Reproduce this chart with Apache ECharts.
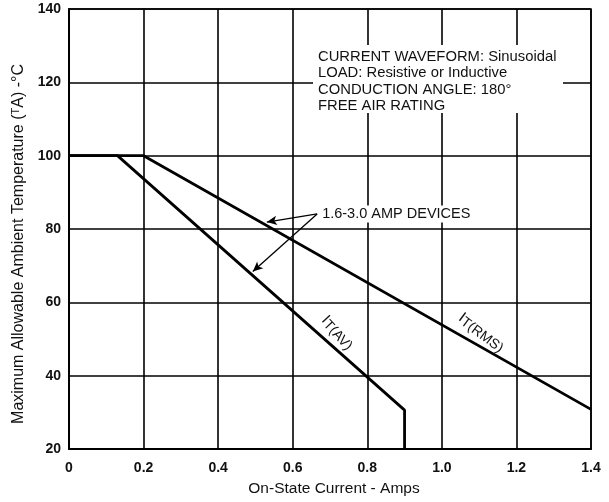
<!DOCTYPE html>
<html>
<head>
<meta charset="utf-8">
<script src="https://cdn.jsdelivr.net/npm/echarts@6/dist/echarts.min.js"></script>
<style>
html,body{margin:0;padding:0;background:#fff;}
#chart{width:609px;height:502px;}
</style>
</head>
<body>
<div id="chart"></div>
<script>
// ---- data ----
const avCurrent = [0, 0.13, 0.9, 0.9];
const avTemp = [100, 100, 30.6, 20];
const rmsCurrent = [0, 0.2, 1.4];
const rmsTemp = [100, 100, 30.8];
const xRange = [0, 1.4, 0.2];
const yRange = [20, 140, 20];
const infoLines = ['CURRENT WAVEFORM: Sinusoidal', 'LOAD: Resistive or Inductive', 'CONDUCTION ANGLE: 180\u00b0', 'FREE AIR RATING'];
const devicesLabel = '1.6-3.0 AMP DEVICES';
const arrowStart = [0.6655, 84.1];
const arrowEnds = [[0.5306, 81.9], [0.493, 68.4]];
const avLabelAt = [0.7166, 51.4];
const rmsLabelAt = [1.103, 51.4];

const FONT = '"Liberation Sans", Arial, sans-serif';
const zip = (xs, ys) => xs.map((x, i) => [x, ys[i]]);

const chart = echarts.init(document.getElementById('chart'), null, {renderer: 'canvas'});
const option = {
  animation: false,
  backgroundColor: '#fff',
  grid: {left: 69, right: 18, top: 9, bottom: 53, show: true, borderColor: '#000', borderWidth: 1.5},
  xAxis: {
    type: 'value', min: xRange[0], max: xRange[1], interval: xRange[2],
    name: 'On-State Current - Amps', nameLocation: 'middle', nameGap: 32,
    nameTextStyle: {fontFamily: FONT, fontSize: 15.5, color: '#111', padding: [0, 0, 0, 8]},
    axisLine: {show: true, lineStyle: {color: '#000', width: 2}},
    axisTick: {show: false},
    axisLabel: {margin: 12, fontFamily: FONT, fontSize: 14, fontWeight: 'bold', color: '#111',
      formatter: v => (v === 0 ? '0' : v.toFixed(1))},
    splitLine: {show: true, lineStyle: {color: '#000', width: 1.6}}
  },
  yAxis: {
    type: 'value', min: yRange[0], max: yRange[1], interval: yRange[2],
    name: 'Maximum Allowable Ambient Temperature ({s|T}A) -\u00b0C', nameLocation: 'middle', nameGap: 41,
    nameTextStyle: {fontFamily: FONT, fontSize: 16, color: '#111', padding: [0, 30, 0, 0],
      rich: {s: {fontFamily: FONT, fontSize: 11, color: '#111', verticalAlign: 'top', padding: [0, 0, 6, 0]}}},
    axisLine: {show: true, lineStyle: {color: '#000', width: 2}},
    axisTick: {show: false},
    axisLabel: {margin: 8, fontFamily: FONT, fontSize: 14, fontWeight: 'bold', color: '#111'},
    splitLine: {show: true, lineStyle: {color: '#000', width: 1.6}}
  },
  graphic: [
    {type: 'rect', shape: {x: 313, y: 45, width: 250, height: 68}, style: {fill: '#fff'}, z: 5, silent: true},
    {type: 'text', left: 318, top: 49, z: 6,
      style: {text: infoLines.join('\n'), font: '14.8px ' + FONT, fill: '#111', lineHeight: 16.2}}
  ],
  series: [
    {
      type: 'line', name: 'IT(AV)', data: zip(avCurrent, avTemp), symbol: 'none', z: 8,
      lineStyle: {color: '#000', width: 2.8},
      markPoint: {
        symbol: 'circle', symbolSize: 0,
        data: [{coord: avLabelAt, label: {show: true, rotate: -47, formatter: '{a|I}{b|T(AV)}',
          rich: {a: {fontFamily: FONT, fontSize: 15, color: '#111', padding: [0, 0, 4, 0]},
                 b: {fontFamily: FONT, fontSize: 14, color: '#111'}}}}]
      },
      markLine: {
        silent: true,
        lineStyle: {color: '#000', width: 1.3, type: 'solid'},
        label: {show: false},
        data: arrowEnds.map(e => [
          {coord: arrowStart, symbol: 'none'},
          {coord: e, symbol: 'arrow', symbolSize: [7, 10]}
        ])
      }
    },
    {
      type: 'line', name: 'IT(RMS)', data: zip(rmsCurrent, rmsTemp), symbol: 'none', z: 8,
      lineStyle: {color: '#000', width: 2.8},
      markPoint: {
        symbol: 'circle', symbolSize: 0,
        data: [
          {coord: rmsLabelAt, label: {show: true, rotate: -37, formatter: '{a|I}{b|T(RMS)}',
            rich: {a: {fontFamily: FONT, fontSize: 15, color: '#111', padding: [0, 0, 4, 0]},
                   b: {fontFamily: FONT, fontSize: 14, color: '#111'}}}},
          {coord: arrowStart, label: {show: true, position: 'right', distance: 3, formatter: devicesLabel,
            fontFamily: FONT, fontSize: 14.5, color: '#111', backgroundColor: '#fff', padding: [1, 2, 1, 2]}}
        ]
      }
    }
  ]
};
chart.setOption(option);
</script>
</body>
</html>
